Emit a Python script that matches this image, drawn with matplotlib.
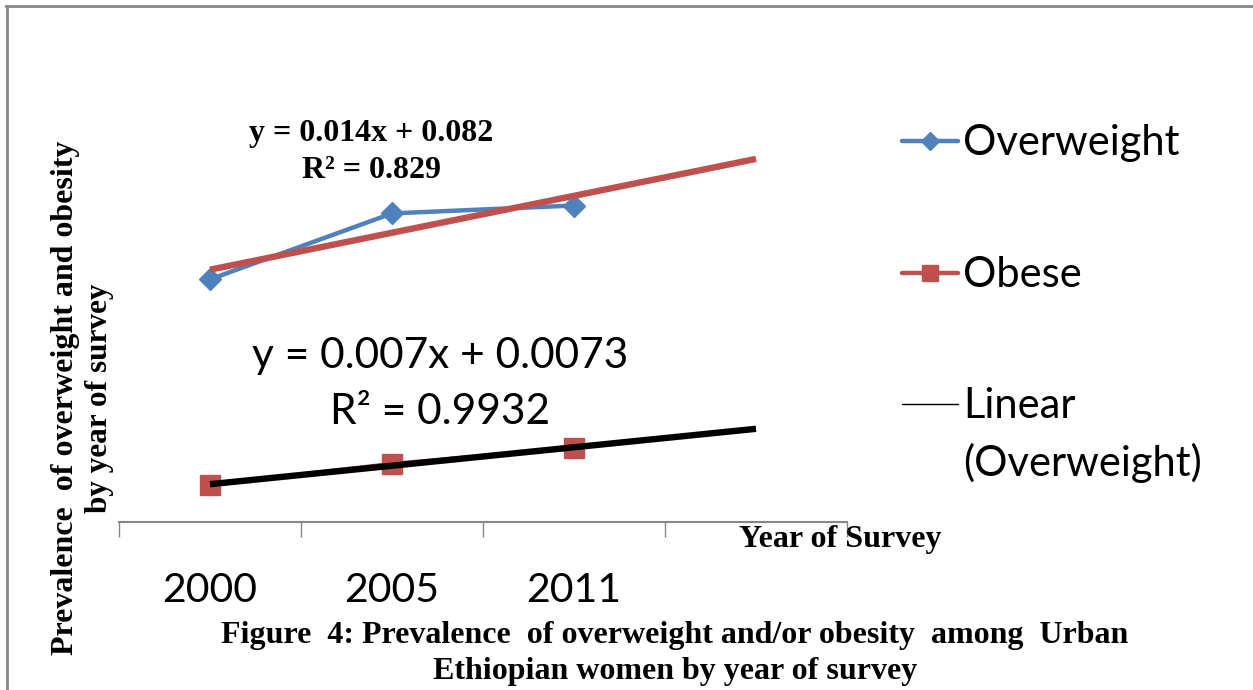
import numpy as np
import matplotlib.pyplot as plt
from matplotlib.lines import Line2D

# Данные (читаются с рисунка)
years = ['2000', '2005', '2011']
overweight = [0.092, 0.117, 0.120]
obese = [0.014, 0.022, 0.028]
n_forward = 1  # тренд продлён на один период вперёд

blue = '#4F81BD'
red = '#C0504D'
serif = 'Liberation Serif'
sans = 'Lato'

W, H = 1253, 690


def fx(px):
    """Пиксели по x -> доля фигуры."""
    return px / W


def fy(py):
    """Пиксели по y (сверху) -> доля фигуры."""
    return 1 - py / H


fig = plt.figure(figsize=(W / 100, H / 100), dpi=100)
ax = fig.add_axes([fx(119), fy(522), (847 - 119) / W, (522 - 100) / H])

x = np.arange(1, len(years) + 1)
xt = np.arange(1, len(years) + 1 + n_forward)

# Ряды данных
ax.plot(x, overweight, color=blue, lw=3.2, marker='D', ms=11, zorder=3)
ax.plot(x, obese, color=red, lw=3.2, marker='s', ms=14, zorder=3)

# Линии тренда (линейная регрессия по данным)
k1, b1 = np.polyfit(x, overweight, 1)
k2, b2 = np.polyfit(x, obese, 1)
ax.plot(xt, k1 * xt + b1, color=red, lw=4.6, zorder=4, solid_capstyle='butt')
ax.plot(xt, k2 * xt + b2, color='black', lw=4.6, zorder=4, solid_capstyle='butt')

ax.set_xlim(0.5, len(xt) + 0.5)
ax.set_ylim(0, 0.16)

# Оси
for s in ['top', 'right', 'left']:
    ax.spines[s].set_visible(False)
ax.spines['bottom'].set_color('#868686')
ax.spines['bottom'].set_linewidth(1.5)
ax.set_yticks([])
ax.set_xticks(x)
ax.set_xticklabels(years, fontsize=29.5, family=sans)
ax.tick_params(axis='x', which='major', length=0, pad=36)
ax.set_xticks(np.arange(0.5, len(xt) + 1), minor=True)
ax.tick_params(axis='x', which='minor', length=11, width=1, color='#868686', direction='out')

# Уравнения трендов
fig.text(fx(371), fy(133), 'y = 0.014x + 0.082', fontsize=23, family=serif,
         weight='bold', ha='center', va='center')
fig.text(fx(371), fy(170), 'R² = 0.829', fontsize=23, family=serif,
         weight='bold', ha='center', va='center')
fig.text(fx(440), fy(356), 'y = 0.007x + 0.0073', fontsize=30.5, family=sans,
         ha='center', va='center')
fig.text(fx(440), fy(412), 'R² = 0.9932', fontsize=30.5, family=sans,
         ha='center', va='center')

# Подписи осей
fig.text(fx(66), fy(398), 'Prevalence  of overweight and obesity', rotation=90,
         fontsize=23, family=serif, weight='bold', ha='center', va='center')
fig.text(fx(100), fy(398), 'by year of survey', rotation=90,
         fontsize=22.5, family=serif, weight='bold', ha='center', va='center')
fig.text(fx(840), fy(540), 'Year of Survey', fontsize=23, family=serif,
         weight='bold', ha='center', va='center')

# Подпись рисунка
fig.text(fx(675), fy(636),
         'Figure  4: Prevalence  of overweight and/or obesity  among  Urban',
         fontsize=23, family=serif, weight='bold', ha='center', va='center')
fig.text(fx(675), fy(672), 'Ethiopian women by year of survey',
         fontsize=23, family=serif, weight='bold', ha='center', va='center')

# Легенда (вручную, чтобы повторить расположение)
legend_items = [
    (141, 155, 'Overweight', blue, 3.2, 'D', 9),
    (273, 287, 'Obese', red, 3.2, 's', 12),
    (404, 418, 'Linear', 'black', 1, 'None', 0),
]
for y_line, y_text, label, col, lw, mk, ms in legend_items:
    fig.add_artist(Line2D([fx(902), fx(958)], [fy(y_line), fy(y_line)],
                          color=col, lw=lw, solid_capstyle='round'))
    if mk != 'None':
        fig.add_artist(Line2D([fx(930)], [fy(y_line)], lw=0, color=col,
                              marker=mk, ms=ms))
    fig.text(fx(963), fy(y_text), label, fontsize=30, family=sans, va='baseline')
fig.text(fx(963), fy(476), '(Overweight)', fontsize=30, family=sans, va='baseline')

# Рамка (верх и лево)
fig.add_artist(Line2D([fx(6), 1], [fy(6), fy(6)], color='#888888', lw=2))
fig.add_artist(Line2D([fx(7), fx(7)], [0, fy(6)], color='#888888', lw=2))

fig.savefig('out.png', dpi=100, facecolor='white')
